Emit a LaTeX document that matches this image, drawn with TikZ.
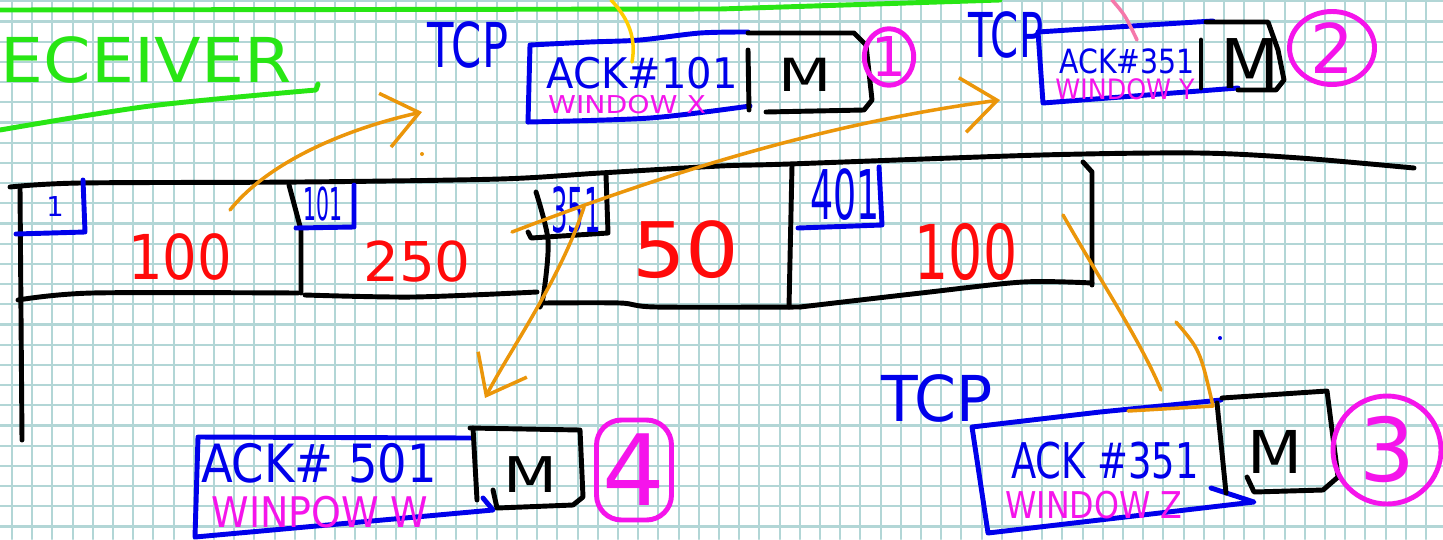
\documentclass[tikz,border=0pt]{standalone}
\usepackage{fontspec}
\setmainfont{DejaVu Sans}
\usepackage{graphicx}
\usepackage{tikz}
\usetikzlibrary{arrows.meta,shapes.geometric}
\definecolor{gridc}{RGB}{178,214,214}
\definecolor{pengreen}{RGB}{40,230,20}
\definecolor{penblue}{RGB}{0,0,235}
\definecolor{penred}{RGB}{255,10,10}
\definecolor{penmag}{RGB}{245,20,235}
\definecolor{penorange}{RGB}{235,150,10}
\definecolor{penyellow}{RGB}{255,205,0}
\definecolor{penpink}{RGB}{245,120,170}
\newcommand{\handtext}[3]{{\fontsize{#1}{#1}\selectfont\scalebox{#2}[1]{#3}}}
\begin{document}
\begin{tikzpicture}[x=0.1mm,y=-0.1mm,line cap=round,line join=round,
    pen/.style={line width=1.4pt},
    strip/.style={pen,black},
    hdr/.style={pen,penblue},
    msg/.style={pen,black},
    ordinal/.style={pen,penmag,draw,inner sep=0pt},
    flow/.style={line width=1pt,penorange},
    flowtip/.style={-{Straight Barb[length=3.5mm,width=5.5mm]}},
    txt/.style={inner sep=0pt}]
  % paper
  \useasboundingbox (0,0) rectangle (1443,539);
  \fill[white] (0,0) rectangle (1443,539);
  \clip (0,0) rectangle (1443,539);
  \foreach \k in {0,...,71} \draw[gridc,line width=0.6pt] ({12+20.2*\k},0) -- ++(0,539);
  \foreach \k in {0,...,26} \draw[gridc,line width=0.6pt] (0,{1.3+20.2*\k}) -- ++(1443,0);

  % receiver heading
  \draw[pen,pengreen] (0,10) -- (720,9) -- (1000,0);
  \node[txt,pengreen,anchor=east] (receiver) at (292,60) {\handtext{17.6}{1.1}{RECEIVER}};
  \draw[pen,pengreen] plot[smooth] coordinates {(0,130) (150,106) (316,90)} -- (318,84);

  % byte stream
  \draw[strip] plot[smooth] coordinates {(10,187) (80,183) (300,182) (500,179) (600,173) (720,166) (789,164) (1041,155) (1198,153) (1300,158) (1414,168)};
  \draw[strip] (20,187) -- (22,440);
  \draw[strip] plot[smooth] coordinates {(18,300) (92,293) (298,293)};
  \draw[strip] (289,185) -- (301,230) -- (301,293);
  \draw[strip] plot[smooth] coordinates {(305,295) (413,297) (537,292)};
  \draw[strip] plot[smooth] coordinates {(536,192) (548,240) (544,292) (540,307)};
  \draw[strip] plot[smooth] coordinates {(542,303) (620,303) (656,307) (800,307)};
  \draw[strip] (792,165) -- (789,307);
  \draw[strip] plot[smooth] coordinates {(800,307) (921,293) (1023,282) (1092,283)};
  \draw[strip] (1083,162) -- (1092,172) -- (1092,285);
  \draw[strip] (528,232) -- (531,238) -- (608,233) -- (606,175);

  \node[txt,penred] (lenA) at (180,257) {\handtext{17.6}{0.88}{100}};
  \node[txt,penred] (lenB) at (417,262) {\handtext{15.6}{1.03}{250}};
  \node[txt,penred] (lenC) at (686,250) {\handtext{21.8}{1.1}{50}};
  \node[txt,penred] (lenD) at (966,252) {\handtext{21.5}{0.71}{100}};

  \node[txt,penblue] (seqA) at (55,206) {\handtext{7.8}{1}{1}};
  \draw[hdr] (83,180) -- (85,232) -- (16,234);
  \node[txt,penblue] (seqB) at (323,204) {\handtext{12.9}{0.45}{101}};
  \draw[hdr] (354,185) -- (354,227) -- (296,228);
  \node[txt,penblue] (seqC) at (576,210) {\handtext{17.6}{0.42}{351}};
  \node[txt,penblue] (seqD) at (845,195) {\handtext{19.5}{0.53}{401}};
  \draw[hdr] (879,167) -- (882,225) -- (798,228);

  % message 1
  \node[txt,penblue] (tcpA) at (468,45) {\handtext{17.6}{0.7}{TCP}};
  \draw[hdr] plot[smooth] coordinates {(748,32) (700,33) (640,40) (590,42) (530,45)} -- (528,122);
  \draw[hdr] plot[smooth] coordinates {(528,122) (650,118) (750,106)};
  \draw[msg] (748,50) -- (749,110);
  \draw[msg] (748,33) -- (854,33) -- (866,45) -- (872,100) -- (864,110) -- (766,112);
  \node[txt,penblue] (ackA) at (642,73) {\handtext{12}{0.95}{ACK\#101}};
  \node[txt,penmag] (winA) at (627,105) {\handtext{7}{1.15}{WINDOW X}};
  \node[txt] (segA) at (805,75) {\handtext{13}{1.35}{M}};
  \node[ordinal,ellipse,minimum width=4.2mm,minimum height=5mm] (numA) at (889,57) {\handtext{15.6}{1}{1}};

  % message 2
  \node[txt,penblue] (tcpB) at (1006,35) {\handtext{17.6}{0.65}{TCP}};
  \draw[hdr] plot[smooth] coordinates {(1213,21) (1100,28) (1038,32)} -- (1043,103) -- (1238,88);
  \draw[msg] (1201,40) -- (1201,88);
  \draw[msg] (1206,22) -- (1268,22) -- (1278,50) -- (1284,80) -- (1276,90) -- (1238,90);
  \node[txt,penblue] (ackB) at (1127,61) {\handtext{9.5}{0.85}{ACK\#351}};
  \node[txt,penmag] (winB) at (1125,89) {\handtext{8}{0.9}{WINDOW Y}};
  \node[txt] (segB) at (1250,64) {\handtext{19.5}{1}{M}};
  \node[ordinal,ellipse,minimum width=8.5mm,minimum height=7.3mm] (numB) at (1332,48) {\handtext{19.5}{1}{2}};

  % message 3
  \node[txt,penblue] (tcpC) at (937,398) {\handtext{18}{0.95}{TCP}};
  \draw[hdr] (1221,400) -- (1100,412) -- (972,427) -- (988,533) -- (1254,502) -- (1211,488);
  \draw[msg] (1217,403) -- (1226,493);
  \draw[msg] (1222,398) -- (1327,391) -- (1338,477) -- (1323,490) -- (1254,492) -- (1247,477);
  \node[txt,penblue] (ackC) at (1105,461) {\handtext{14}{0.75}{ACK \#351}};
  \node[txt,penmag] (winC) at (1094,505) {\handtext{10.5}{0.86}{WINDOW Z}};
  \node[txt] (segC) at (1275,452) {\handtext{16.8}{1.08}{M}};
  \node[ordinal,circle,minimum size=10.8mm] (numC) at (1387,450) {\handtext{25}{1}{3}};

  % message 4
  \draw[hdr] (470,438) -- (198,437) -- (195,537) -- (493,510) -- (483,498);
  \draw[msg] (473,428) -- (477,500);
  \draw[msg] (470,428) -- (580,430) -- (583,497) -- (573,505) -- (497,508) -- (493,490);
  \node[txt,penblue] (ackD) at (319,463) {\handtext{15}{0.88}{ACK\# 501}};
  \node[txt,penmag] (winD) at (320,512) {\handtext{12}{0.9}{WINPOW W}};
  \node[txt] (segD) at (530,475) {\handtext{14}{1.27}{M}};
  \node[ordinal,rectangle,rounded corners=2.5mm,minimum width=7.5mm,minimum height=10mm] (numD) at (634,470) {\handtext{28}{1}{4}};

  % orange flows
  \coordinate (fromA) at (230,210);
  \coordinate (toA) at (422,112);
  \draw[flow,flowtip] (fromA) .. controls (270,160) and (350,128) .. (toA);
  \fill[penorange] (422,154) circle (2);
  \coordinate (fromB) at (512,232);
  \coordinate (toB) at (1000,100);
  \draw[flow,flowtip] (fromB) .. controls (700,160) and (850,120) .. (toB);
  \coordinate (fromC) at (584,207);
  \coordinate (toC) at (485,398);
  \draw[flow,flowtip] (fromC) .. controls (560,280) and (510,350) .. (toC);
  \coordinate (fromD) at (1063,215);
  \coordinate (toD) at (1213,406);
  \draw[flow] (fromD) .. controls (1100,280) and (1140,340) .. (1161,390);
  \draw[flow] (1176,322) .. controls (1200,350) .. (toD) -- (1128,411);
  \draw[flow,penyellow] (611,0) .. controls (630,20) and (636,40) .. (632,62);
  \draw[flow,penpink] (1112,0) .. controls (1125,15) .. (1137,40);
  \fill[penblue] (1220,338) circle (2);
\end{tikzpicture}
\end{document}
